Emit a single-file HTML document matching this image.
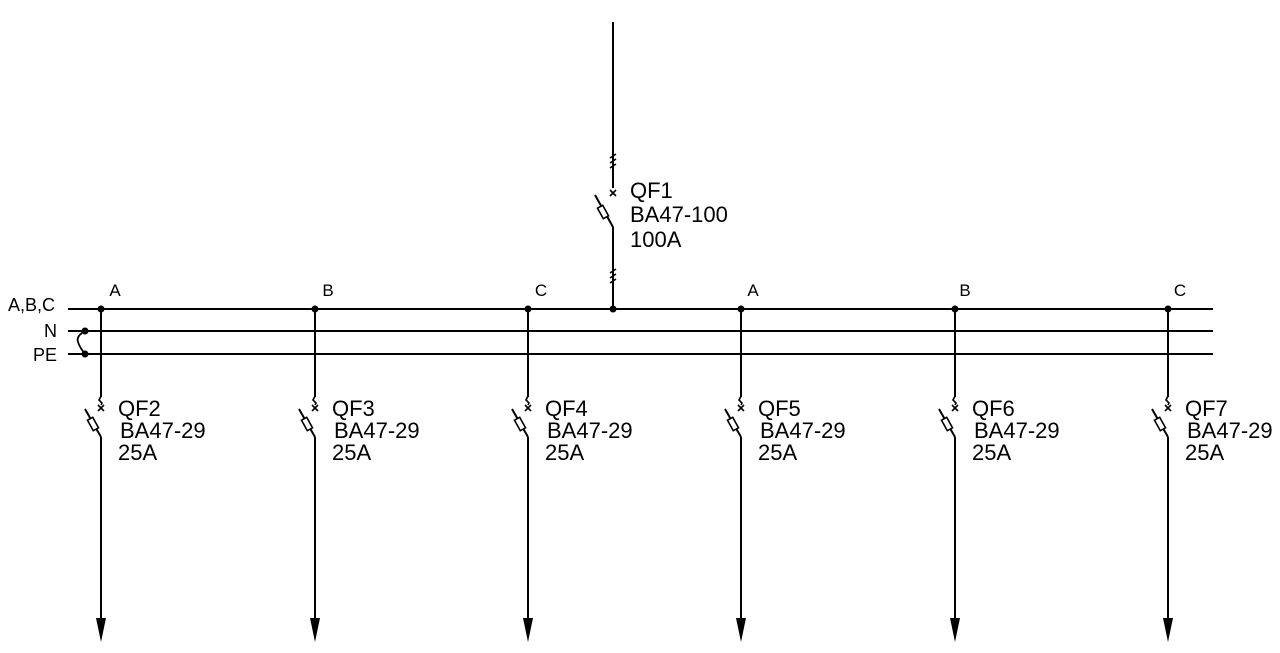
<!DOCTYPE html>
<html><head><meta charset="utf-8"><style>
html,body{margin:0;padding:0;background:#fff;}
svg{display:block;}
text{font-family:"Liberation Sans",sans-serif;fill:#000;}
</style></head><body>
<svg width="1280" height="653" viewBox="0 0 1280 653" xmlns="http://www.w3.org/2000/svg">
<defs>
<g id="br" stroke="#000" stroke-width="2" fill="none">
<line x1="0" y1="309" x2="0" y2="397"/>
<path d="M0,396 L-2,400 L1,403 L0,405" stroke-width="1.6"/>
<line x1="-3" y1="405" x2="3" y2="411" stroke-width="1.6"/>
<line x1="3" y1="405" x2="-3" y2="411" stroke-width="1.6"/>
<line x1="-16" y1="409" x2="0" y2="437"/>
<rect x="-6" y="-3" width="12" height="6" transform="translate(-8,424) rotate(61)" fill="#fff" stroke-width="1.6"/>
<line x1="0" y1="437" x2="0" y2="620"/>
<polygon points="-5,618 5,618 0,642" fill="#000" stroke="none"/>
<circle cx="0" cy="309" r="3.5" fill="#000" stroke="none"/>
</g>
</defs>
<g stroke="#000" stroke-width="2">
<line x1="68" y1="309" x2="1213" y2="309"/>
<line x1="68" y1="331" x2="1213" y2="331"/>
<line x1="68" y1="354" x2="1213" y2="354"/>
</g>
<circle cx="85" cy="331" r="3.5"/><circle cx="85" cy="354" r="3.5"/>
<path d="M85,331 Q76,336 78,342 Q80,348 85,354" stroke="#000" stroke-width="1.8" fill="none"/>
<g font-size="18">
<text x="55" y="311" text-anchor="end">A,B,C</text>
<text x="57" y="337" text-anchor="end">N</text>
<text x="57" y="361" text-anchor="end">PE</text>
</g>
<!-- QF1 -->
<g stroke="#000" stroke-width="2" fill="none">
<line x1="613" y1="22" x2="613" y2="188"/>
<path d="M610,158 L616,154 M610,163 L616,159 M610,168 L616,164" stroke-width="1.6"/>
<line x1="610" y1="190" x2="616" y2="196" stroke-width="1.6"/>
<line x1="616" y1="190" x2="610" y2="196" stroke-width="1.6"/>
<line x1="595" y1="195" x2="613" y2="227"/>
<rect x="-6" y="-3" width="12" height="6" transform="translate(603,212) rotate(61)" fill="#fff" stroke-width="1.6"/>
<line x1="613" y1="227" x2="613" y2="309"/>
<path d="M610,273 L616,269 M610,278 L616,274 M610,283 L616,279" stroke-width="1.6"/>
</g>
<circle cx="613" cy="309" r="3.5"/>
<g font-size="22">
<text x="630" y="198">QF1</text>
<text x="630" y="222">BA47-100</text>
<text x="630" y="247">100A</text>
</g>
<use href="#br" x="101"/><use href="#br" x="315"/><use href="#br" x="528"/>
<use href="#br" x="741"/><use href="#br" x="955"/><use href="#br" x="1168"/>
<g font-size="17" text-anchor="middle">
<text x="115" y="296">A</text><text x="328" y="296">B</text><text x="541" y="296">C</text>
<text x="753" y="296">A</text><text x="965" y="296">B</text><text x="1180" y="296">C</text>
</g>
<g font-size="22">
<text x="118" y="416">QF2</text><text x="120" y="438">BA47-29</text><text x="118" y="460">25A</text>
<text x="332" y="416">QF3</text><text x="334" y="438">BA47-29</text><text x="332" y="460">25A</text>
<text x="545" y="416">QF4</text><text x="547" y="438">BA47-29</text><text x="545" y="460">25A</text>
<text x="758" y="416">QF5</text><text x="760" y="438">BA47-29</text><text x="758" y="460">25A</text>
<text x="972" y="416">QF6</text><text x="974" y="438">BA47-29</text><text x="972" y="460">25A</text>
<text x="1185" y="416">QF7</text><text x="1187" y="438">BA47-29</text><text x="1185" y="460">25A</text>
</g>
</svg>
</body></html>
